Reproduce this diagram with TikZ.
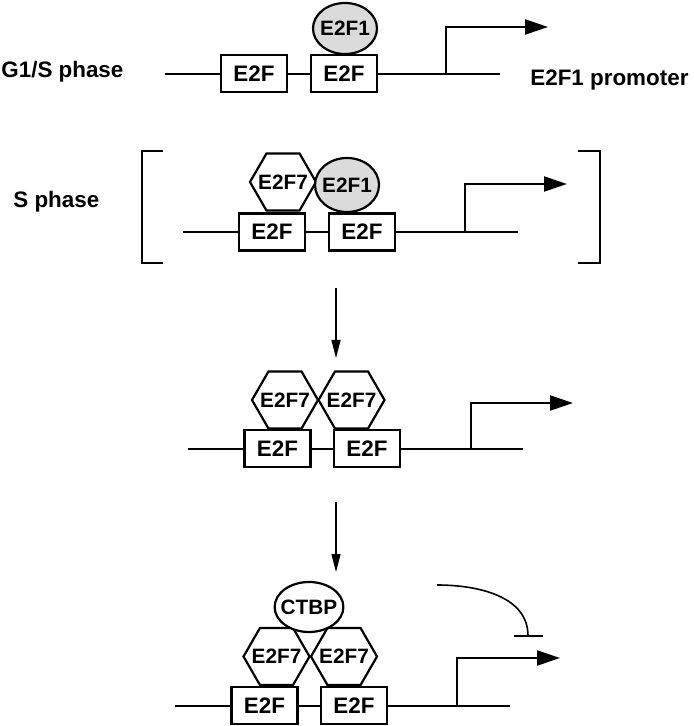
\documentclass[tikz,border=0pt]{standalone}
\usepackage{fontspec}
\setmainfont{Liberation Sans}
\usetikzlibrary{positioning,calc,arrows.meta,shapes.geometric}
\tikzset{
    every node/.style={font=\bfseries},
    e2fbox/.style={draw, fill=white, line width=1.1pt, minimum width=33pt, minimum height=18.5pt, inner sep=0pt, font=\bfseries\fontsize{11.2}{12}\selectfont},
    hexa/.style={regular polygon, regular polygon sides=6, draw, fill=white, line width=1.1pt, minimum size=33pt, inner sep=-5pt, font=\bfseries\fontsize{10.4}{11}\selectfont},
    greyblob/.style={ellipse, draw, fill=gray!28, line width=1.1pt, inner sep=-2pt, font=\bfseries\fontsize{10.4}{11}\selectfont},
    whiteblob/.style={greyblob, fill=white},
    phaselabel/.style={inner sep=0pt, font=\bfseries\fontsize{11.2}{13}\selectfont},
    dna/.style={line width=1.1pt},
    bracket/.style={line width=1.1pt},
    promo/.style={line width=1.1pt, -{Triangle[length=11.5pt, width=7.5pt]}},
    arrow/.style={line width=0.6pt, -{Triangle[length=9pt, width=4.5pt]}},
    inhibit/.style={line width=0.8pt, -{Bar[width=14.5pt]}},
}

\begin{document}
\begin{tikzpicture}[x=0.5pt, y=-0.5pt]
  \useasboundingbox (0,0) rectangle (693,726);

  % G1/S phase
  \coordinate (s1) at (165,74);
  \coordinate (e1) at (500,74);
  \coordinate (tss1) at (446,74);
  \coordinate (tip1) at (548,27);
  \draw[dna] (s1) -- (e1);
  \draw[promo] (tss1) |- (tip1);
  \node[e2fbox] (b11) at (254,73.5) {E2F};
  \node[e2fbox] (b12) at (344,73.5) {E2F};
  \node[greyblob, minimum width=32pt, minimum height=25.5pt] (f1) at (345,28.5) {E2F1};
  \node[phaselabel, anchor=base west] (g1s) at (1,78) {G1/S phase};
  \node[phaselabel, anchor=base west] (prom) at (530,86) {E2F1 promoter};

  % S phase
  \coordinate (s2) at (183,232);
  \coordinate (e2) at (518,232);
  \coordinate (tss2) at (465,232);
  \coordinate (tip2) at (567,184);
  \draw[dna] (s2) -- (e2);
  \draw[promo] (tss2) |- (tip2);
  \node[e2fbox] (b21) at (272,232) {E2F};
  \node[e2fbox] (b22) at (362,232) {E2F};
  \node[hexa] (h21) at (283,182) {E2F7};
  \node[greyblob, minimum width=32pt, minimum height=27pt] (f2) at (347,185) {E2F1};
  \node[phaselabel, anchor=base west] (sph) at (13,208) {S phase};
  \draw[bracket] (163,151) -- (142,151) -- (142,263) -- (163,263);
  \draw[bracket] (578,151) -- (600,151) -- (600,263) -- (578,263);

  \coordinate (a1s) at (336,288);
  \coordinate (a1e) at (336,358);
  \draw[arrow] (a1s) -- (a1e);

  % two E2F7
  \coordinate (s3) at (188,449);
  \coordinate (e3) at (523,449);
  \coordinate (tss3) at (471,449);
  \coordinate (tip3) at (573,403);
  \draw[dna] (s3) -- (e3);
  \draw[promo] (tss3) |- (tip3);
  \node[e2fbox] (b31) at (277.5,448.5) {E2F};
  \node[e2fbox] (b32) at (367,448.5) {E2F};
  \node[hexa] (h31) at (285,400) {E2F7};
  \node[hexa] (h32) at (351.5,400) {E2F7};

  \coordinate (a2s) at (336,502);
  \coordinate (a2e) at (336,572);
  \draw[arrow] (a2s) -- (a2e);

  % CTBP repression
  \coordinate (s4) at (175,706);
  \coordinate (e4) at (510,706);
  \coordinate (tss4) at (457,706);
  \coordinate (tip4) at (560,658);
  \draw[dna] (s4) -- (e4);
  \draw[promo] (tss4) |- (tip4);
  \node[e2fbox] (b41) at (264.5,705.5) {E2F};
  \node[e2fbox] (b42) at (354,705.5) {E2F};
  \node[hexa] (h41) at (276.5,656.5) {E2F7};
  \node[hexa] (h42) at (344,656.5) {E2F7};
  \node[whiteblob, minimum width=34pt, minimum height=25pt] (ctbp) at (309,607) {CTBP};
  \coordinate (ih0) at (437,585);
  \coordinate (ih1) at (528,637);
  \draw[inhibit] (ih0) to[out=0, in=90] (ih1);
\end{tikzpicture}
\end{document}
